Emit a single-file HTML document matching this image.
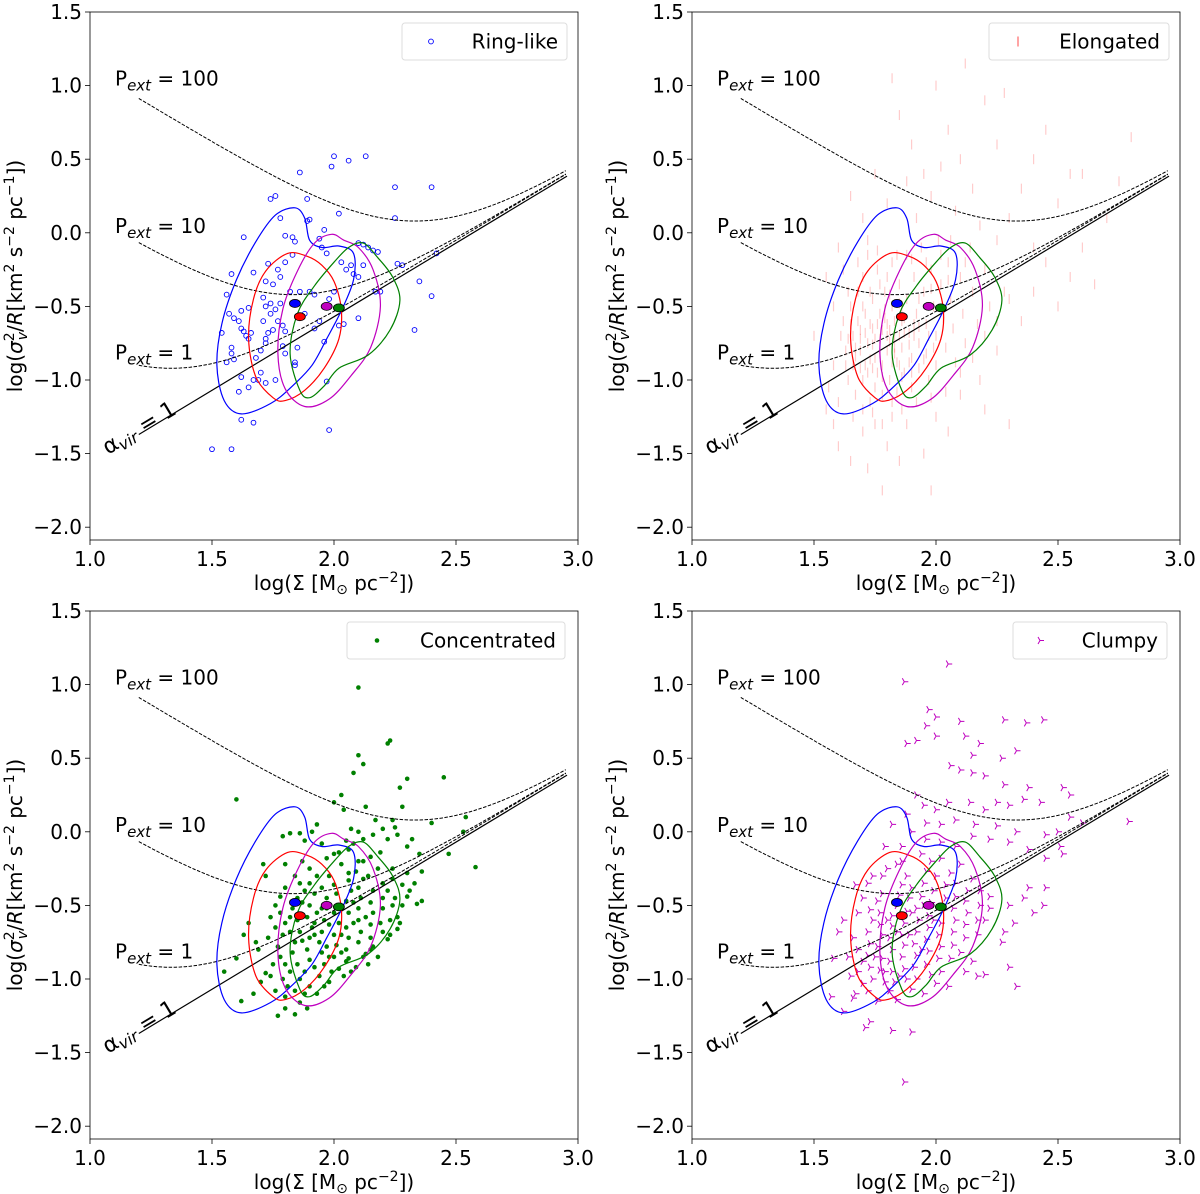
<!DOCTYPE html>
<html><head><meta charset="utf-8"><style>
html,body{margin:0;padding:0;background:#fff;}
svg{display:block;font-family:"DejaVu Sans","Liberation Sans",sans-serif;}
</style></head><body>
<svg id="fig" width="1200" height="1194" viewBox="0 0 1200 1194" xmlns="http://www.w3.org/2000/svg"></svg>
<script>
// ---------- data ----------
const xTicks = [1.0, 1.5, 2.0, 2.5, 3.0];
const yTicks = [1.5, 1.0, 0.5, 0.0, -0.5, -1.0, -1.5, -2.0];
const pExtValues = [1, 10, 100];
const pExtLabels = ["1", "10", "100"];
const pExtLabelY = [-0.86, 0.0, 1.0];
const panelNames = ["Ring-like", "Elongated", "Concentrated", "Clumpy"];

const contourBlue = [1.62,-1.23, 1.55,-1.14, 1.52,-0.9, 1.54,-0.62, 1.6,-0.32, 1.68,-0.06, 1.76,0.12, 1.84,0.17, 1.88,0.1, 1.9,-0.05, 1.95,-0.1, 2.02,-0.09, 2.08,-0.14, 2.08,-0.32, 2.03,-0.53, 1.97,-0.72, 1.91,-0.9, 1.83,-1.04, 1.74,-1.16];
const contourRed = [1.75,-1.12, 1.68,-0.98, 1.65,-0.72, 1.67,-0.45, 1.72,-0.26, 1.81,-0.14, 1.89,-0.16, 1.95,-0.22, 2.0,-0.33, 2.03,-0.52, 2.02,-0.72, 1.96,-0.92, 1.88,-1.07, 1.8,-1.14];
const contourMagenta = [1.8,-1.06, 1.77,-0.82, 1.79,-0.52, 1.85,-0.26, 1.92,-0.07, 1.99,-0.01, 2.04,-0.05, 2.1,-0.1, 2.16,-0.25, 2.19,-0.5, 2.15,-0.78, 2.07,-0.97, 1.98,-1.13, 1.88,-1.18];
const contourGreen = [1.86,-1.07, 1.82,-0.82, 1.85,-0.55, 1.92,-0.36, 2.0,-0.2, 2.06,-0.1, 2.12,-0.07, 2.18,-0.17, 2.24,-0.3, 2.27,-0.46, 2.23,-0.66, 2.14,-0.83, 2.02,-0.92, 1.96,-1.04, 1.9,-1.12];
const contourColors = ["#0000ff", "#ff0000", "#bf00bf", "#008000"];
const meanX = [1.84, 1.86, 1.97, 2.02];
const meanY = [-0.48, -0.57, -0.50, -0.51];

const ringXY = [1.5,-1.47,1.58,-1.47,1.62,-1.27,1.67,-1.29,1.98,-1.34,1.97,-1.01,2.40,-0.43,2.33,-0.66,2.35,-0.33,2.42,-0.14,2.40,0.31,2.25,0.31,2.25,0.1,2.13,0.52,2.06,0.49,2.0,0.52,1.99,0.45,1.86,0.41,1.74,0.23,1.76,0.25,1.89,0.23,2.02,0.13,1.9,0.09,1.89,0.08,1.78,0.1,1.63,-0.03,1.8,-0.02,1.83,-0.03,1.84,-0.06,1.96,0.02,1.94,-0.04,1.95,-0.1,1.97,-0.14,2.1,-0.07,2.12,-0.08,2.14,-0.1,2.16,-0.12,2.18,-0.13,2.03,-0.2,2.05,-0.25,2.07,-0.22,2.08,-0.28,2.1,-0.3,2.12,-0.22,2.26,-0.21,2.28,-0.22,1.67,-0.27,1.73,-0.21,1.77,-0.25,1.8,-0.2,1.83,-0.15,1.78,-0.3,1.75,-0.35,1.72,-0.33,1.82,-0.4,1.86,-0.4,1.9,-0.4,1.92,-0.42,1.98,-0.45,2.0,-0.4,2.17,-0.4,2.19,-0.4,2.1,-0.58,2.02,-0.63,2.04,-0.62,1.56,-0.42,1.58,-0.28,1.57,-0.55,1.59,-0.58,1.61,-0.6,1.62,-0.65,1.63,-0.67,1.64,-0.7,1.65,-0.72,1.66,-0.68,1.54,-0.68,1.58,-0.78,1.58,-0.82,1.59,-0.86,1.56,-0.88,1.62,-0.98,1.65,-1.05,1.61,-1.08,1.67,-1.0,1.69,-1.0,1.7,-0.95,1.72,-1.02,1.76,-1.0,1.68,-0.85,1.7,-0.8,1.72,-0.75,1.72,-0.72,1.73,-0.68,1.75,-0.66,1.71,-0.6,1.74,-0.55,1.76,-0.52,1.78,-0.48,1.77,-0.6,1.79,-0.63,1.8,-0.67,1.79,-0.77,1.8,-0.82,1.85,-0.78,1.84,-0.88,1.84,-0.9,1.94,-0.6,1.92,-0.65,1.88,-0.55,1.96,-0.74,1.71,-0.44,1.74,-0.48,1.72,-0.5,1.62,-0.53,1.65,-0.51];

const elongXY = [1.62,-0.6,1.63,-0.8,1.64,-1.0,1.65,-0.5,1.66,-0.7,1.66,-0.9,1.67,-1.1,1.68,-0.4,1.68,-0.6,1.69,-0.8,1.7,-1.0,1.7,-0.3,1.71,-0.55,1.72,-0.75,1.72,-0.95,1.73,-1.15,1.74,-0.45,1.74,-0.65,1.75,-0.85,1.75,-1.05,1.76,-0.25,1.77,-0.55,1.77,-0.72,1.78,-0.9,1.78,-1.1,1.79,-0.4,1.8,-0.62,1.8,-0.8,1.81,-1.0,1.82,-0.2,1.82,-0.5,1.83,-0.7,1.84,-0.88,1.84,-1.08,1.85,-0.35,1.86,-0.6,1.86,-0.78,1.87,-0.95,1.88,-0.15,1.88,-0.45,1.89,-0.68,1.9,-0.85,1.9,-1.05,1.91,-0.3,1.92,-0.55,1.93,-0.75,1.93,-0.92,1.94,-0.1,1.95,-0.4,1.96,-0.62,1.96,-0.82,1.97,-1.0,1.98,-0.25,1.99,-0.5,2.0,-0.7,2.0,-0.9,2.01,-0.05,2.02,-0.35,2.03,-0.58,2.04,-0.78,2.05,-0.2,2.06,-0.45,2.07,-0.65,2.08,-0.88,2.1,-0.3,2.11,-0.55,2.12,-0.75,2.14,-0.1,2.15,-0.4,2.17,-0.62,2.2,-0.25,2.22,-0.5,2.25,-0.8,1.5,-0.7,1.55,-1.2,1.58,-1.3,1.6,-1.45,1.65,-1.55,1.7,-1.35,1.72,-1.6,1.75,-1.3,1.78,-1.75,1.8,-1.45,1.82,-1.25,1.85,-1.55,1.88,-1.3,1.95,-1.5,1.98,-1.75,2.0,-1.25,2.05,-1.35,2.1,-1.1,2.18,-1.0,2.3,-1.3,2.2,-1.2,2.35,-0.6,2.4,-0.4,2.45,-0.2,2.5,-0.5,2.55,-0.3,2.6,-0.1,2.65,-0.35,2.7,0.1,2.75,0.35,2.8,0.65,2.3,0.1,2.35,0.3,2.4,0.5,2.45,0.7,2.5,0.2,2.55,0.4,2.25,0.6,2.2,0.9,2.15,0.3,2.1,0.5,2.05,0.7,2.0,1.0,1.95,0.4,1.9,0.6,1.85,0.8,1.82,1.05,1.8,0.2,1.75,0.4,1.7,0.1,1.65,0.25,1.6,-0.1,1.55,-0.3,2.12,1.15,2.28,0.95,1.98,0.25,2.25,-0.05,2.3,-0.45,2.18,0.05,2.08,0.15,1.92,0.1,1.88,0.35,2.02,0.45,2.4,-0.1,2.6,0.4,1.72,-0.15,1.62,-0.25,1.64,-0.72,1.69,-0.66,1.73,-0.86,1.76,-0.62,1.79,-0.52,1.81,-0.74,1.83,-0.6,1.85,-0.9,1.87,-0.68,1.89,-0.76,1.67,-0.84,1.71,-0.9,1.76,-0.95,1.8,-0.7,1.78,-0.66,1.74,-0.76,1.69,-0.72,1.83,-0.82,1.86,-0.52,1.91,-0.62,
1.61,-0.7,1.63,-0.9,1.65,-0.62,1.67,-0.78,1.69,-0.92,1.71,-0.68,1.73,-0.62,1.75,-0.72,1.77,-0.82,1.79,-0.58,1.81,-0.66,1.83,-0.78,1.85,-0.7,1.87,-0.58,1.89,-0.88,1.91,-0.7,1.93,-0.64,1.95,-0.86,1.97,-0.7,1.99,-0.78,1.64,-0.4,1.68,-0.2,1.72,-0.05,1.76,-0.12,1.8,-0.3,1.84,-0.15,1.9,-0.18,1.96,-0.2,2.02,-0.15,2.06,-0.05,1.66,-1.25,1.7,-1.2,1.74,-1.22,1.78,-1.3,1.82,-1.15,1.86,-1.2,1.92,-1.15,1.98,-1.12,2.04,-1.08,2.1,-0.95,2.15,-0.85,2.2,-0.7,2.25,-0.6,2.28,-0.4,1.58,-0.5,1.58,-0.9,1.56,-1.05,1.6,-1.15,1.73,-0.4,1.77,-0.35,1.81,-0.42,1.85,-0.48,1.93,-0.45,1.98,-0.38,2.05,-0.32,2.12,-0.2,1.7,-0.5,1.74,-0.92,1.78,-0.98,1.82,-0.88,1.86,-0.98,1.9,-0.95];

const concXY = [2.1,0.98,2.23,0.62,2.22,0.6,2.1,0.52,2.12,0.46,2.08,0.4,2.3,0.36,2.45,0.37,2.27,0.3,2.03,0.25,2.04,0.15,2.0,0.2,1.6,0.22,2.13,0.17,2.17,0.08,2.28,0.17,2.24,0.08,1.93,0.05,2.4,0.06,2.54,0.1,2.53,0.0,2.58,-0.24,2.47,-0.15,2.35,-0.15,2.3,-0.1,2.32,-0.05,2.2,0.02,2.22,-0.05,2.16,-0.02,2.12,-0.05,2.1,0.0,2.08,-0.08,2.05,-0.06,2.07,0.02,2.25,0.03,2.26,-0.02,1.82,-0.01,1.86,-0.01,1.91,0.0,1.95,-0.08,1.79,-0.03,1.88,-0.06,2.02,-0.14,2.06,-0.12,2.15,-0.17,2.19,-0.14,2.24,-0.25,2.3,-0.28,2.36,-0.27,2.33,-0.35,2.31,-0.4,2.36,-0.47,2.34,-0.49,2.3,-0.44,2.26,-0.58,2.27,-0.62,2.22,-0.73,2.15,-0.8,2.13,-0.83,2.06,-0.86,2.09,-0.92,1.98,-1.02,1.93,-1.1,1.86,-1.16,1.8,-1.2,1.77,-1.25,1.84,-1.24,1.89,-1.2,1.72,-0.96,1.69,-0.8,1.68,-0.75,1.65,-0.62,1.63,-0.7,1.6,-0.86,1.55,-0.95,1.67,-1.1,1.62,-1.15,1.72,-0.3,1.71,-0.22,1.8,-0.22,1.84,-0.3,1.87,-0.2,1.9,-0.25,1.97,-0.18,2.0,-0.15,2.03,-0.22,2.06,-0.28,2.1,-0.2,2.12,-0.32,1.76,-0.5,1.78,-0.55,1.8,-0.62,1.79,-0.7,1.77,-0.78,1.78,-0.85,1.8,-0.9,1.82,-0.95,1.79,-1.0,1.81,-1.05,1.84,-1.08,1.86,-1.0,1.88,-0.95,1.85,-0.9,1.83,-0.82,1.84,-0.75,1.86,-0.68,1.85,-0.6,1.83,-0.52,1.85,-0.45,1.88,-0.4,1.9,-0.35,1.92,-0.42,1.9,-0.5,1.89,-0.58,1.91,-0.65,1.9,-0.72,1.89,-0.8,1.9,-0.87,1.92,-0.92,1.94,-0.98,1.96,-0.9,1.95,-0.82,1.94,-0.75,1.95,-0.68,1.96,-0.6,1.95,-0.52,1.97,-0.45,1.95,-0.38,1.98,-0.3,2.0,-0.36,2.01,-0.42,2.0,-0.55,2.02,-0.62,2.0,-0.7,2.01,-0.77,2.0,-0.85,2.02,-0.93,2.04,-0.98,2.05,-0.88,2.05,-0.8,2.06,-0.72,2.05,-0.65,2.06,-0.55,2.05,-0.47,2.07,-0.4,2.06,-0.33,2.09,-0.27,2.1,-0.38,2.11,-0.45,2.1,-0.52,2.1,-0.6,2.11,-0.68,2.1,-0.75,2.12,-0.85,2.14,-0.9,2.15,-0.72,2.15,-0.63,2.16,-0.55,2.15,-0.48,2.16,-0.4,2.14,-0.3,2.18,-0.25,2.2,-0.35,2.2,-0.45,2.2,-0.52,2.19,-0.62,2.2,-0.68,2.22,-0.4,2.24,-0.32,2.25,-0.45,2.24,-0.5,2.23,-0.6,2.28,-0.5,2.28,-0.36,1.87,-0.48,1.93,-0.55,1.98,-0.63,2.03,-0.7,2.08,-0.62,2.13,-0.58,1.97,-0.78,1.92,-0.7,1.87,-0.74,1.82,-0.68,1.82,-0.58,1.76,-0.65,1.74,-0.58,1.75,-0.9,1.73,-0.72,1.96,-1.05,1.99,-0.95,2.07,-0.95,1.88,-1.1,1.9,-1.05,2.08,-0.48,2.12,-0.2,1.93,-0.3,1.86,-0.35,1.8,-0.38,1.78,-0.44,2.03,-0.5,1.97,-0.52,1.92,-0.62,1.98,-0.85,2.03,-0.82,2.16,-0.78,2.18,-0.85,2.23,-0.7,2.26,-0.66,1.74,-0.98,1.7,-1.02,1.76,-1.08,1.8,-1.12];

const clumpXY = [2.05,1.14,1.87,1.02,1.97,0.83,2.0,0.78,1.96,0.72,2.1,0.75,2.28,0.76,2.37,0.74,2.44,0.76,2.0,0.65,1.92,0.62,1.88,0.6,2.12,0.65,2.18,0.6,2.15,0.52,2.33,0.55,2.27,0.5,2.06,0.45,2.1,0.42,2.15,0.4,2.2,0.38,2.28,0.32,2.38,0.3,2.52,0.3,2.55,0.25,2.43,0.2,2.36,0.22,2.3,0.18,2.25,0.2,2.2,0.15,2.14,0.2,2.05,0.2,2.0,0.15,1.95,0.18,1.92,0.25,1.88,0.12,1.82,0.05,1.9,0.0,1.96,0.06,2.02,0.05,2.08,0.08,2.16,0.05,2.25,0.04,2.33,0.0,2.45,-0.02,2.55,0.1,2.5,0.0,2.6,0.06,2.79,0.07,2.51,-0.1,2.52,-0.15,2.45,-0.18,2.38,-0.12,2.3,-0.07,2.22,-0.05,2.15,-0.03,2.08,-0.1,2.02,-0.07,1.96,-0.05,1.86,-0.1,1.79,-0.1,1.84,-0.22,1.78,-0.3,1.72,-0.35,1.67,-0.36,1.62,-0.6,1.6,-0.68,1.58,-0.86,1.57,-1.12,1.62,-1.22,1.66,-1.13,1.71,-1.33,1.73,-1.29,1.82,-1.35,1.9,-1.36,1.87,-1.7,2.3,-0.5,2.32,-0.62,2.4,-0.55,2.44,-0.5,2.45,-0.38,2.38,-0.38,2.36,-0.45,2.28,-0.68,2.27,-0.75,2.3,-0.92,2.2,-0.97,2.17,-0.98,2.33,-1.05,1.66,-0.72,1.68,-0.8,1.7,-0.88,1.68,-0.95,1.7,-1.03,1.72,-1.08,1.74,-1.0,1.73,-0.92,1.72,-0.84,1.73,-0.76,1.72,-0.68,1.74,-0.6,1.73,-0.53,1.76,-0.47,1.78,-0.42,1.77,-0.55,1.77,-0.63,1.78,-0.7,1.76,-0.78,1.78,-0.86,1.77,-0.94,1.79,-1.02,1.81,-1.08,1.83,-1.02,1.82,-0.95,1.81,-0.88,1.82,-0.8,1.81,-0.72,1.82,-0.64,1.82,-0.57,1.84,-0.5,1.85,-0.43,1.86,-0.36,1.88,-0.3,1.9,-0.38,1.89,-0.45,1.88,-0.54,1.87,-0.62,1.86,-0.7,1.87,-0.77,1.86,-0.85,1.87,-0.93,1.88,-1.0,1.9,-1.07,1.92,-1.0,1.91,-0.92,1.92,-0.84,1.91,-0.76,1.92,-0.68,1.93,-0.6,1.92,-0.52,1.94,-0.44,1.95,-0.35,1.96,-0.27,1.98,-0.2,2.0,-0.3,1.99,-0.4,1.98,-0.48,1.97,-0.57,1.97,-0.65,1.96,-0.73,1.97,-0.81,1.96,-0.9,1.98,-0.97,2.0,-1.03,2.02,-0.95,2.01,-0.86,2.02,-0.78,2.01,-0.7,2.02,-0.62,2.03,-0.53,2.04,-0.45,2.04,-0.36,2.06,-0.28,2.08,-0.35,2.08,-0.44,2.07,-0.52,2.08,-0.6,2.07,-0.68,2.07,-0.77,2.06,-0.86,2.1,-0.82,2.12,-0.72,2.12,-0.63,2.13,-0.55,2.12,-0.47,2.13,-0.4,2.15,-0.32,2.18,-0.4,2.18,-0.5,2.17,-0.6,2.17,-0.7,2.2,-0.6,2.22,-0.52,2.22,-0.44,2.1,-0.22,2.02,-0.18,1.94,-0.15,1.86,-0.2,1.8,-0.25,1.74,-0.3,1.7,-0.45,1.68,-0.55,1.64,-0.85,1.65,-0.98,1.67,-1.1,1.76,-1.15,1.84,-1.14,1.95,-1.1,2.05,-1.05,2.12,-0.95,2.15,-0.88,1.8,-0.6,1.84,-0.68,1.89,-0.7,1.94,-0.8,1.99,-0.6,1.75,-0.85,1.79,-0.95,1.85,-0.98,1.9,-0.55,1.95,-0.5];

const scatterSets = [ringXY, elongXY, concXY, clumpXY];

// ---------- layout ----------
const NS = "http://www.w3.org/2000/svg";
const fig = document.getElementById("fig");
const panels = [
  {l:90, r:578, t:12, b:540, leg:[402,23,165,37], legMarkX:431},
  {l:692, r:1180, t:12, b:540, leg:[989,23,180,37], legMarkX:1018},
  {l:90, r:578, t:611, b:1139, leg:[347,622,218,37], legMarkX:377},
  {l:692, r:1180, t:611, b:1139, leg:[1013,622,154,37], legMarkX:1040}
];
const X0=1.0, X1=3.0, Y0=-2.087, Y1=1.5;

function el(tag, attrs, parent){
  const e = document.createElementNS(NS, tag);
  for (const k in attrs) e.setAttribute(k, attrs[k]);
  parent.appendChild(e);
  return e;
}
function smoothClosed(pts){
  const n = pts.length; let d = "M"+pts[0][0].toFixed(1)+","+pts[0][1].toFixed(1);
  for (let i=0;i<n;i++){
    const p0=pts[(i-1+n)%n], p1=pts[i], p2=pts[(i+1)%n], p3=pts[(i+2)%n];
    const c1=[p1[0]+(p2[0]-p0[0])/6, p1[1]+(p2[1]-p0[1])/6];
    const c2=[p2[0]-(p3[0]-p1[0])/6, p2[1]-(p3[1]-p1[1])/6];
    d += " C"+c1[0].toFixed(1)+","+c1[1].toFixed(1)+" "+c2[0].toFixed(1)+","+c2[1].toFixed(1)+" "+p2[0].toFixed(1)+","+p2[1].toFixed(1);
  }
  return d+"Z";
}
function triPath(cx, cy, r){
  return "M"+cx+","+cy+" l"+r+",0 M"+cx+","+cy+" l"+(-r*0.5)+","+(-r*0.87)+" M"+cx+","+cy+" l"+(-r*0.5)+","+(r*0.87);
}

panels.forEach((P, pi) => {
  const sx = v => P.l + (v - X0) / (X1 - X0) * (P.r - P.l);
  const sy = v => P.b - (v - Y0) / (Y1 - Y0) * (P.b - P.t);
  const g = el("g", {}, fig);
  
  
  const clipId = "clip"+pi;
  const cp = el("clipPath", {id:clipId}, g);
  el("rect", {x:P.l, y:P.t, width:P.r-P.l, height:P.b-P.t}, cp);
  const plot = el("g", {"clip-path":"url(#"+clipId+")"}, g);

  const data = scatterSets[pi];
  const sc = el("g", {}, plot);
  
  
  let triD = "";
  for (let i=0;i<data.length;i+=2){
    const cx = sx(data[i]), cy = sy(data[i+1]);
    if (pi===0){
      const c = el("circle", {cx:cx, cy:cy, r:2.4, fill:"none", stroke:"#0000ff", "stroke-width":0.9}, sc);
      
      
    } else if (pi===1){
      const ln = el("line", {x1:cx, y1:cy-5, x2:cx, y2:cy+5, stroke:"#ff0000", "stroke-opacity":0.2, "stroke-width":1.2}, sc);
      
      
    } else if (pi===2){
      const c = el("circle", {cx:cx, cy:cy, r:2.3, fill:"#008000"}, sc);
      
      
    } else {
      triD += triPath(+cx.toFixed(1), +cy.toFixed(1), 4) + " ";
    }
  }
  if (pi===3){
    const tp = el("path", {d:triD, stroke:"#bf00bf", "stroke-width":1, fill:"none"}, sc);
    
    
  }

  pExtValues.forEach((pv, k) => {
    let d = "";
    for (let x=1.2; x<=2.951; x+=0.01){
      const S = Math.pow(10, x);
      const y = Math.log10(0.0028*S + 1.29*pv/S);
      d += (d?"L":"M") + sx(x).toFixed(1) + "," + sy(y).toFixed(1);
    }
    const pth = el("path", {d:d, fill:"none", stroke:"#000", "stroke-width":1, "stroke-dasharray":"3.5,1.5"}, plot);
    
    
  });
  const av = el("line", {x1:sx(1.2), y1:sy(1.2-2.57), x2:sx(2.955), y2:sy(2.955-2.57), stroke:"#000", "stroke-width":1.2}, plot);
  
  

  [contourBlue, contourRed, contourMagenta, contourGreen].forEach((cArr, k) => {
    const pts = [];
    for (let i=0;i<cArr.length;i+=2) pts.push([sx(cArr[i]), sy(cArr[i+1])]);
    const cpth = el("path", {d:smoothClosed(pts), fill:"none", stroke:contourColors[k], "stroke-width":1.2}, plot);
    
    
  });
  [0,1,2,3].forEach(k => {
    const e = el("ellipse", {cx:sx(meanX[k]), cy:sy(meanY[k]), rx:5.5, ry:4, fill:contourColors[k], stroke:"#000", "stroke-width":0.8}, plot);
    
    
  });

  pExtLabels.forEach((lab, k) => {
    const t = el("text", {x:P.l+25, y:sy(pExtLabelY[k]), "font-size":20}, g);
    t.innerHTML = 'P<tspan font-style="italic" font-size="15" dy="5">ext</tspan><tspan dy="-5"> = ' + lab + '</tspan>';
    
    
  });
  const at = el("text", {x:0, y:0, "font-size":22, transform:"translate("+(P.l+18)+","+(P.t+443)+") rotate(-31)"}, g);
  at.innerHTML = 'α<tspan font-style="italic" font-size="16" dy="4">vir</tspan><tspan dy="-4"> = 1</tspan>';
  
  

  const fr = el("rect", {x:P.l, y:P.t, width:P.r-P.l, height:P.b-P.t, fill:"none", stroke:"#000", "stroke-width":0.8}, g);
  
  

  xTicks.forEach(v => {
    const x = sx(v);
    el("line", {x1:x, y1:P.b, x2:x, y2:P.b+5, stroke:"#000", "stroke-width":0.8}, g);
    const t = el("text", {x:x, y:P.b+26, "font-size":20, "text-anchor":"middle"}, g);
    t.textContent = v.toFixed(1);
    
    
  });
  yTicks.forEach(v => {
    const y = sy(v);
    el("line", {x1:P.l-5, y1:y, x2:P.l, y2:y, stroke:"#000", "stroke-width":0.8}, g);
    const t = el("text", {x:P.l-8, y:y+7, "font-size":20, "text-anchor":"end"}, g);
    t.textContent = (v<0?"\u2212":"") + Math.abs(v).toFixed(1);
    
    
  });
  const xt = el("text", {x:(P.l+P.r)/2, y:P.b+50, "font-size":20, "text-anchor":"middle"}, g);
  xt.innerHTML = 'log(Σ [M<tspan font-size="14" dy="4">⊙</tspan><tspan dy="-4"> pc</tspan><tspan font-size="14" dy="-8">−2</tspan><tspan dy="8">])</tspan>';
  
  
  const yt = el("text", {x:0, y:0, "font-size":20, "text-anchor":"middle", transform:"translate("+(P.l-68)+","+((P.t+P.b)/2)+") rotate(-90)"}, g);
  yt.innerHTML = 'log(<tspan font-style="italic">σ</tspan><tspan font-size="14" dy="-8">2</tspan><tspan font-size="14" font-style="italic" dx="-8" dy="13">v</tspan><tspan dy="-5">/</tspan><tspan font-style="italic">R</tspan>[km<tspan font-size="14" dy="-8">2</tspan><tspan dy="8"> s</tspan><tspan font-size="14" dy="-8">−2</tspan><tspan dy="8"> pc</tspan><tspan font-size="14" dy="-8">−1</tspan><tspan dy="8">])</tspan>';
  
  

  const [lx, ly, lw, lh] = P.leg;
  const lg = el("g", {}, g);
  
  
  el("rect", {x:lx, y:ly, width:lw, height:lh, rx:3, fill:"#fff", "fill-opacity":0.8, stroke:"#ddd", "stroke-width":1}, lg);
  const my = ly + lh/2;
  if (pi===0) el("circle", {cx:P.legMarkX, cy:my, r:2.4, fill:"none", stroke:"#0000ff", "stroke-width":0.9}, lg);
  if (pi===1) el("line", {x1:P.legMarkX, y1:my-5, x2:P.legMarkX, y2:my+5, stroke:"#ff0000", "stroke-opacity":0.6, "stroke-width":1.2}, lg);
  if (pi===2) el("circle", {cx:P.legMarkX, cy:my, r:2.3, fill:"#008000"}, lg);
  if (pi===3) el("path", {d:triPath(P.legMarkX, my, 4), stroke:"#bf00bf", "stroke-width":1, fill:"none"}, lg);
  const lt = el("text", {x:lx+lw-9, y:my+7, "font-size":20, "text-anchor":"end"}, lg);
  lt.textContent = panelNames[pi];
  
  
});
</script>
</body></html>
